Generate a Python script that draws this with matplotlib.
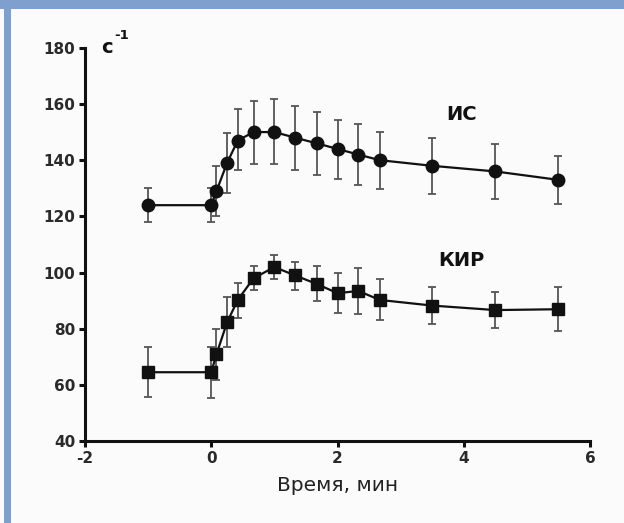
import matplotlib
matplotlib.use("Agg")
import matplotlib.pyplot as plt
from matplotlib.patches import Rectangle

plt.rcParams['font.family'] = ['DejaVu Sans']

# Time, min
time = [-1, 0, 0.083, 0.25, 0.42, 0.67, 1.0, 1.33, 1.67, 2.0, 2.33, 2.67, 3.5, 4.5, 5.5]

# ИС series (circles)
is_mean = [124, 124, 129, 139, 147, 150, 150, 148, 146, 144, 142, 140, 138, 136, 133]
is_err_low = [6, 6, 9, 10.5, 10.5, 11.3, 11.5, 11.5, 11.2, 10.7, 10.7, 10.1, 10.1, 9.8, 8.7]
is_err_high = [6, 6, 9, 10.5, 11.3, 11.1, 11.6, 11.3, 11, 10.4, 10.9, 10.1, 10, 9.7, 8.5]

# КИР series (squares)
kir_mean = [64.6, 64.6, 71, 82.3, 90.3, 98, 102, 99, 96, 92.7, 93.5, 90.3, 88.3, 86.7, 87]
kir_err_low = [8.7, 9, 9, 8.6, 6.3, 4.2, 4.1, 5.2, 6.1, 6.9, 8.1, 7.1, 6.7, 6.5, 7.7]
kir_err_high = [9.1, 9, 8.8, 8.9, 5.9, 4.4, 4.3, 4.8, 6.2, 7.1, 8.1, 7.3, 6.7, 6.5, 8]

x_ticks = [-2, 0, 2, 4, 6]
y_ticks = [40, 60, 80, 100, 120, 140, 160, 180]

fig = plt.figure(figsize=(6.24, 5.23), dpi=100)
fig.patch.set_facecolor('#fbfbfb')

# blue frame (top and left)
fig.patches.append(Rectangle((0, 1 - 9 / 523), 1, 9 / 523, transform=fig.transFigure,
                             facecolor='#7f9fcf', edgecolor='none', zorder=0))
fig.patches.append(Rectangle((4 / 624, 0), 7 / 624, 1, transform=fig.transFigure,
                             facecolor='#7f9fcf', edgecolor='none', zorder=0))

ax = fig.add_axes([85 / 624, 81.6 / 523, (590 - 85) / 624, (475.3 - 81.6) / 523])
ax.set_facecolor('none')

eb_kw = dict(ecolor='#555555', elinewidth=1.3, capsize=2.8, capthick=1.3,
             color='#111111', linewidth=1.6)
ax.errorbar(time, is_mean, yerr=[is_err_low, is_err_high], marker='o',
            markersize=9, markerfacecolor='#111111', markeredgecolor='#111111', **eb_kw)
ax.errorbar(time, kir_mean, yerr=[kir_err_low, kir_err_high], marker='s',
            markersize=8.5, markerfacecolor='#111111', markeredgecolor='#111111', **eb_kw)

ax.set_xlim(-2, 6)
ax.set_ylim(40, 180)
ax.set_xticks(x_ticks)
ax.set_yticks(y_ticks)
ax.set_xticklabels([str(v) for v in x_ticks], fontsize=11, fontweight='bold', color='#2a2a2a')
ax.set_yticklabels([str(v) for v in y_ticks], fontsize=11, fontweight='bold', color='#2a2a2a')

for s in ['top', 'right']:
    ax.spines[s].set_visible(False)
for s in ['left', 'bottom']:
    ax.spines[s].set_linewidth(2.2)
    ax.spines[s].set_color('#111111')
ax.tick_params(direction='out', length=4, width=2.2, color='#111111', pad=3)

ax.set_xlabel('Время, мин', fontsize=14.5, color='#222222', labelpad=7)

ax.text(3.97, 156.3, 'ИС', fontsize=14, fontweight='bold', ha='center', va='center', color='#111111')
ax.text(3.97, 104.5, 'КИР', fontsize=14, fontweight='bold', ha='center', va='center', color='#111111')

ax.text(-1.75, 180.0, 'с', fontsize=14, fontweight='bold', ha='left', va='center', color='#111111')
ax.text(-1.53, 184.5, '-1', fontsize=9.5, fontweight='bold', ha='left', va='center', color='#111111',
        clip_on=False)

fig.savefig('out.png', dpi=100, facecolor=fig.get_facecolor())
